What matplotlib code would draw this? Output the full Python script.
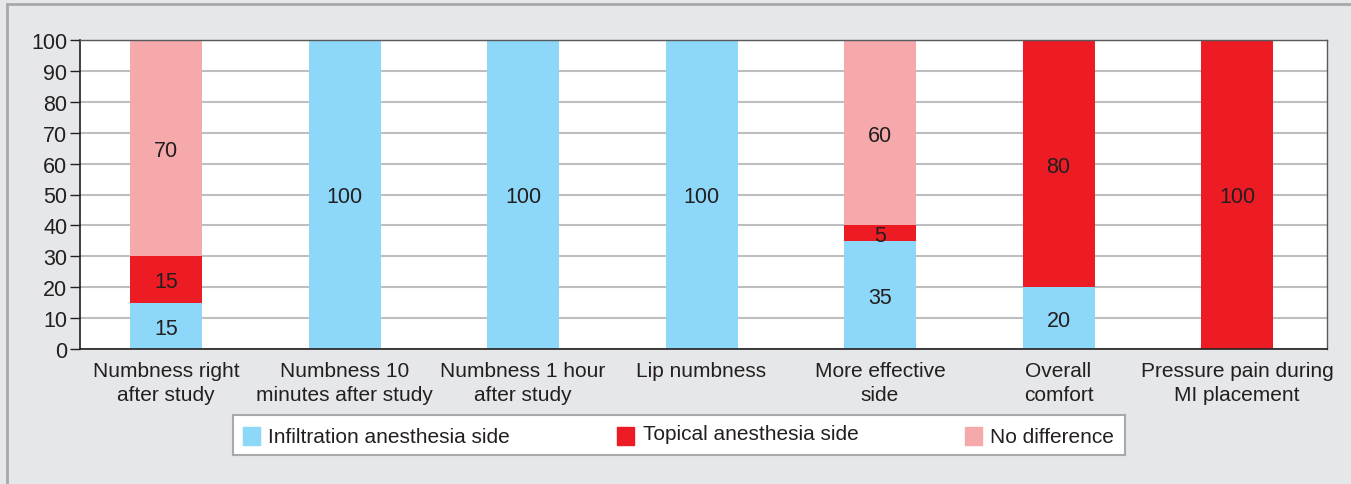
import matplotlib
matplotlib.use("Agg")
import matplotlib.pyplot as plt
from matplotlib.patches import Rectangle
import numpy as np

categories = ["Numbness right\nafter study", "Numbness 10\nminutes after study",
              "Numbness 1 hour\nafter study", "Lip numbness", "More effective\nside",
              "Overall\ncomfort", "Pressure pain during\nMI placement"]
infiltration = [15, 100, 100, 100, 35, 20, 0]
topical = [15, 0, 0, 0, 5, 80, 100]
no_difference = [70, 0, 0, 0, 60, 0, 0]
series_names = ["Infiltration anesthesia side", "Topical anesthesia side", "No difference"]
colors = ["#8dd8f8", "#ed1c24", "#f5a9ab"]
yticks = list(range(0, 101, 10))

plt.rcParams['font.family'] = ['Liberation Sans', 'DejaVu Sans']
txt = "#231f20"
FS = 15

fig = plt.figure(figsize=(13.51, 4.85), dpi=100)
fig.patch.set_facecolor("#e6e7e9")
fig.add_artist(plt.Line2D([7/1351, 1], [1-5/485, 1-5/485], color="#a7a9ac", lw=2, transform=fig.transFigure))
fig.add_artist(plt.Line2D([7/1351, 7/1351], [0, 1-5/485], color="#a7a9ac", lw=2, transform=fig.transFigure))

ax = fig.add_axes([80/1351, 1-350/485, (1327-80)/1351, (350-41)/485])
ax.set_facecolor("white")
x = np.arange(len(categories))
w = 0.403
bottom = np.zeros(len(categories))
for vals, c in zip([infiltration, topical, no_difference], colors):
    vals = np.array(vals, dtype=float)
    ax.bar(x, vals, w, bottom=bottom, color=c, zorder=2, linewidth=0)
    for xi, v, b in zip(x, vals, bottom):
        if v > 0:
            ax.text(xi, b + v/2, f"{int(v)}", ha="center", va="center_baseline",
                    fontsize=FS + 0.5, color=txt, zorder=3)
    bottom += vals

ax.set_xlim(-0.482, len(categories) - 0.496)
ax.set_ylim(0, 100)
ax.set_yticks(yticks)
ax.set_yticklabels([str(t) for t in yticks], fontsize=FS + 0.5, color=txt)
ax.set_xticks(x)
ax.set_xticklabels(categories, fontsize=FS, color=txt, linespacing=1.3)
ax.tick_params(axis='x', length=0, pad=9)
ax.tick_params(axis='y', length=7, width=1, color=txt, pad=2)
ax.yaxis.grid(True, color="#bcbec0", lw=1.5, zorder=0)
ax.set_axisbelow(True)
for s in ["left", "bottom"]:
    ax.spines[s].set_color(txt)
    ax.spines[s].set_linewidth(1.2)
for s in ["top", "right"]:
    ax.spines[s].set_color("#58595b")
    ax.spines[s].set_linewidth(1.0)

# legend box drawn in pixel-like coordinates of the box
L, R, T, B = 233, 1125, 416, 456
lax = fig.add_axes([L/1351, 1-B/485, (R-L)/1351, (B-T)/485])
lax.set_xlim(L, R)
lax.set_ylim(B, T)
lax.set_xticks([])
lax.set_yticks([])
lax.set_facecolor("white")
for s in lax.spines.values():
    s.set_color("#a7a9ac")
    s.set_linewidth(1.5)
sq_x = [243, 617, 965]
text_x = [268, 643, 990]
text_y = [438, 435, 438]
for sx, tx, ty, name, c in zip(sq_x, text_x, text_y, series_names, colors):
    lax.add_patch(Rectangle((sx, 428), 17, 18, color=c))
    lax.text(tx, ty, name, fontsize=FS, color=txt, va="center", ha="left")

fig.savefig("out.png", dpi=100, facecolor=fig.get_facecolor())
